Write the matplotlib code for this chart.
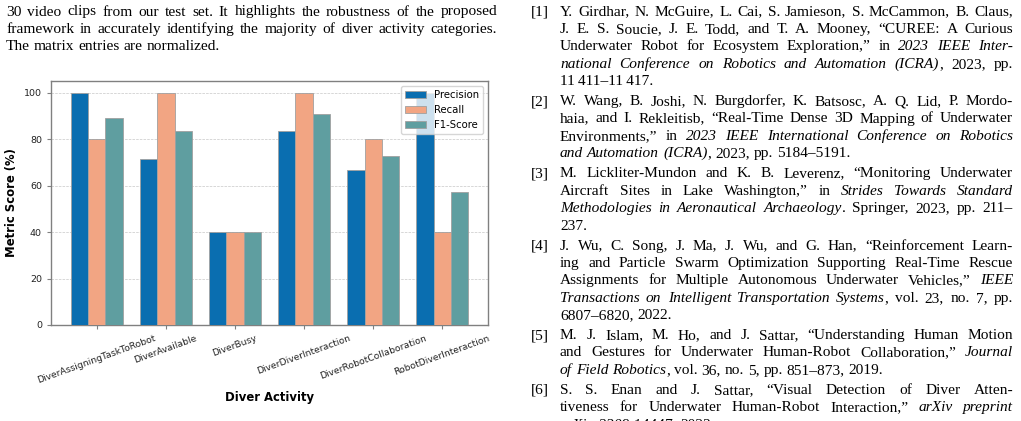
import matplotlib
matplotlib.use("Agg")
import matplotlib.pyplot as plt
import numpy as np

# chart data
activities = [
    "DiverAssigningTaskToRobot",
    "DiverAvailable",
    "DiverBusy",
    "DiverDiverInteraction",
    "DiverRobotCollaboration",
    "RobotDiverInteraction",
]
precision = [100.0, 71.4, 40.0, 83.3, 66.7, 100.0]
recall = [80.0, 100.0, 40.0, 100.0, 80.0, 40.0]
f1_score = [88.9, 83.3, 40.0, 90.9, 72.7, 57.1]

# surrounding page text ('|' toggles italic)
caption_lines = [
    "30 video clips from our test set. It highlights the robustness of the proposed",
    "framework in accurately identifying the majority of diver activity categories.",
    "The matrix entries are normalized.",
]
references = [
    ["Y. Girdhar, N. McGuire, L. Cai, S. Jamieson, S. McCammon, B. Claus,",
     "J. E. S. Soucie, J. E. Todd, and T. A. Mooney, \u201cCUREE: A Curious",
     "Underwater Robot for Ecosystem Exploration,\u201d in |2023 IEEE Inter-|",
     "|national Conference on Robotics and Automation (ICRA)|, 2023, pp.",
     "11\u2009411\u201311\u2009417."],
    ["W. Wang, B. Joshi, N. Burgdorfer, K. Batsosc, A. Q. Lid, P. Mordo-",
     "haia, and I. Rekleitisb, \u201cReal-Time Dense 3D Mapping of Underwater",
     "Environments,\u201d in |2023 IEEE International Conference on Robotics|",
     "|and Automation (ICRA)|, 2023, pp. 5184\u20135191."],
    ["M. Lickliter-Mundon and K. B. Leverenz, \u201cMonitoring Underwater",
     "Aircraft Sites in Lake Washington,\u201d in |Strides Towards Standard|",
     "|Methodologies in Aeronautical Archaeology|. Springer, 2023, pp. 211\u2013",
     "237."],
    ["J. Wu, C. Song, J. Ma, J. Wu, and G. Han, \u201cReinforcement Learn-",
     "ing and Particle Swarm Optimization Supporting Real-Time Rescue",
     "Assignments for Multiple Autonomous Underwater Vehicles,\u201d |IEEE|",
     "|Transactions on Intelligent Transportation Systems|, vol. 23, no. 7, pp.",
     "6807\u20136820, 2022."],
    ["M. J. Islam, M. Ho, and J. Sattar, \u201cUnderstanding Human Motion",
     "and Gestures for Underwater Human-Robot Collaboration,\u201d |Journal|",
     "|of Field Robotics|, vol. 36, no. 5, pp. 851\u2013873, 2019."],
    ["S. S. Enan and J. Sattar, \u201cVisual Detection of Diver Atten-",
     "tiveness for Underwater Human-Robot Interaction,\u201d |arXiv preprint|",
     "|arXiv:2309.14447|, 2023."],
]

W, H = 1021, 421
SERIF = ["Liberation Serif", "DejaVu Serif"]
TEXT_SIZE = 11.1

fig = plt.figure(figsize=(W / 100, H / 100), dpi=100)
renderer = fig.canvas.get_renderer()


def parse_words(line):
    words = []
    italic = False
    for word in line.split(" "):
        pieces = []
        for k, part in enumerate(word.split("|")):
            if k > 0:
                italic = not italic
            if part:
                pieces.append((part, italic))
        words.append(pieces)
    return words


def text_width(s, italic):
    t = fig.text(0, 0, s, fontsize=TEXT_SIZE, family=SERIF,
                 style="italic" if italic else "normal")
    w = t.get_window_extent(renderer).width
    t.remove()
    return w


def draw_line(line, x0, x1, y, justify=True):
    words = parse_words(line)
    widths = [sum(text_width(s, it) for s, it in pieces) for pieces in words]
    gap = TEXT_SIZE * 100 / 72 * 0.25
    if justify and len(words) > 1:
        gap = (x1 - x0 - sum(widths)) / (len(words) - 1)
    x = x0
    for pieces, w in zip(words, widths):
        for s, it in pieces:
            fig.text(x / W, 1 - y / H, s, fontsize=TEXT_SIZE, family=SERIF,
                     style="italic" if it else "normal", va="baseline", ha="left")
            x += text_width(s, it)
        x += gap


# left column caption text
for i, line in enumerate(caption_lines):
    draw_line(line, 6, 497, 15.5 + 17.4 * i, justify=(i < len(caption_lines) - 1))

# right column references
y = 15.5
for n, ref in enumerate(references, start=1):
    fig.text(531 / W, 1 - y / H, f"[{n}]", fontsize=TEXT_SIZE, family=SERIF,
             va="baseline", ha="left")
    for i, line in enumerate(ref):
        draw_line(line, 560, 1013, y, justify=(i < len(ref) - 1))
        y += 17.4
    y += 2.6

# bar chart
ax = fig.add_axes([51 / W, 1 - 325 / H, 437 / W, 244 / H])
x = np.arange(len(activities))
width = 0.25
edge = "#a0a0a0"
ax.bar(x - width, precision, width, label="Precision", color="#0a6eb0", edgecolor=edge, linewidth=0.6, zorder=3)
ax.bar(x, recall, width, label="Recall", color="#f2a583", edgecolor=edge, linewidth=0.6, zorder=3)
ax.bar(x + width, f1_score, width, label="F1-Score", color="#5f9ea0", edgecolor=edge, linewidth=0.6, zorder=3)

ax.set_ylim(0, 105)
ax.set_yticks([0, 20, 40, 60, 80, 100])
ax.set_xticks(x)
ax.set_xticklabels(activities, rotation=20, ha="center", fontsize=6.6)
ax.tick_params(axis="y", labelsize=6.8)
ax.tick_params(colors="#808080", labelcolor="#222222", length=3, width=0.8)
ax.set_xlabel("Diver Activity", fontsize=8.4, fontweight="bold")
ax.set_ylabel("Metric Score (%)", fontsize=8.4, fontweight="bold")
ax.grid(axis="y", linestyle="--", linewidth=0.5, color="#c8c8c8", zorder=0)
for spine in ax.spines.values():
    spine.set_color("#808080")
    spine.set_linewidth(1.0)
ax.legend(loc="upper right", fontsize=7.3)

fig.savefig("out.png", dpi=100)
